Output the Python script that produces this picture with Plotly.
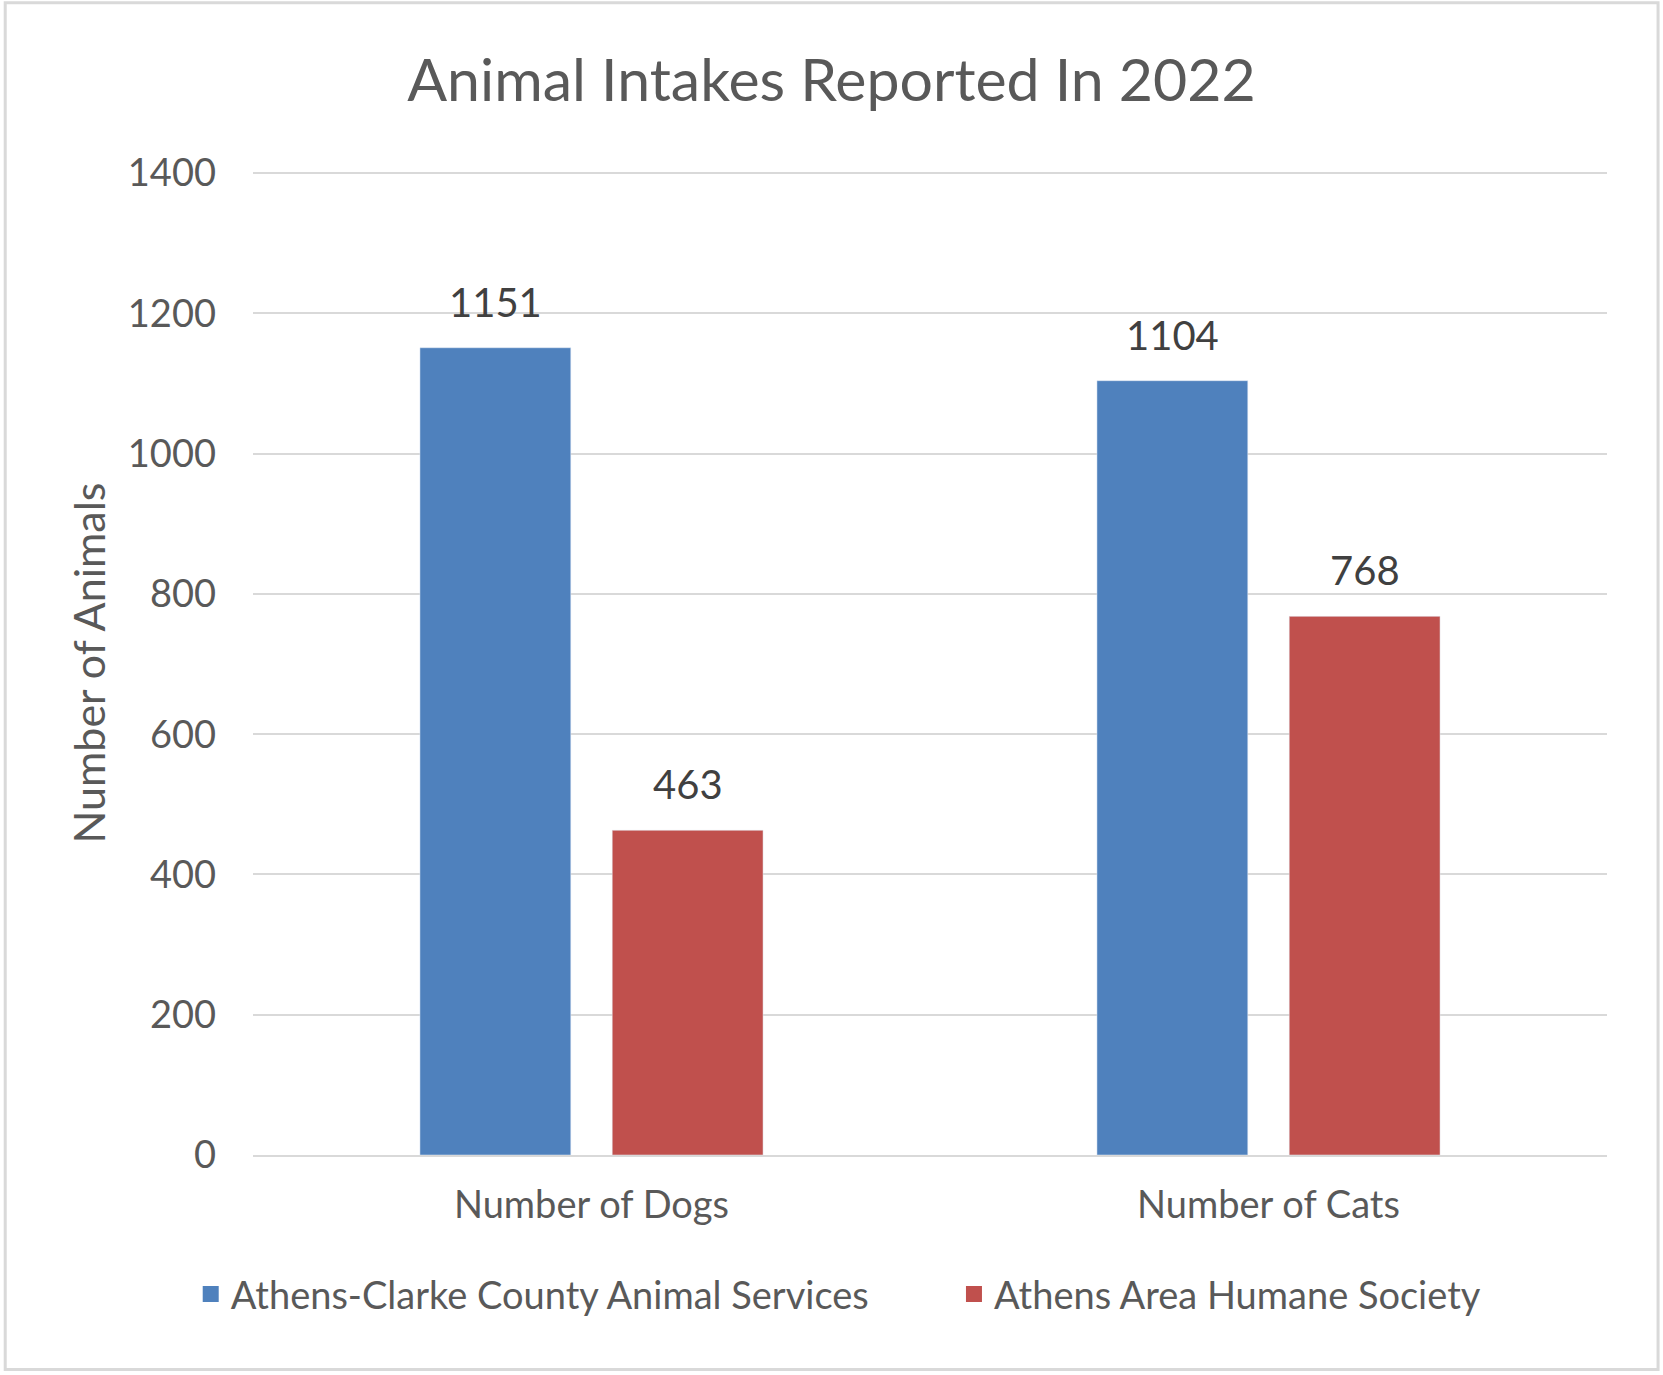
import plotly.graph_objects as go

categories = ["Number of Dogs", "Number of Cats"]
acc_services = [1151, 1104]
humane_society = [463, 768]
series_names = ["Athens-Clarke County Animal Services", "Athens Area Humane Society"]
series_colors = ["#4F81BD", "#C0504D"]
y_ticks = [0, 200, 400, 600, 800, 1000, 1200, 1400]

font_family = "Lato"
grey_text = "#595959"

plot_w = 1663 - 253 - 56
bargap = 0.432
slot = plot_w / len(categories) * (1 - bargap) / 2
legend_ids = ["legend", "legend2"]

fig = go.Figure()
for i, (name, vals) in enumerate(zip(series_names, [acc_services, humane_society])):
    fig.add_trace(go.Bar(x = categories, y = vals, name = name,
                         marker_color = series_colors[i], showlegend = False))
    # bigger legend swatch than the bar default
    fig.add_trace(go.Scatter(x = [None], y = [None], mode = "markers", name = name,
                             legend = legend_ids[i],
                             marker = dict(symbol = "square", size = 22, color = series_colors[i])))
    for cat, v in zip(categories, vals):
        fig.add_annotation(x = cat, y = v, text = str(v), showarrow = False,
                           xshift = (i - 0.5) * slot, yshift = 20, yanchor = "bottom",
                           font = dict(size = 40, color = "#404040"))

legend_style = dict(orientation = "h", xanchor = "left", y = -0.1416, yanchor = "middle",
                    font = dict(size = 38, color = grey_text))

fig.update_layout(
    width = 1663, height = 1375,
    margin = dict(l = 253, r = 56, t = 171, b = 220),
    paper_bgcolor = "white", plot_bgcolor = "white",
    font = dict(family = font_family, color = grey_text),
    title = dict(text = "Animal Intakes Reported In 2022", x = 0.5, xanchor = "center",
                 y = 1 - 80 / 1375, yanchor = "middle",
                 font = dict(size = 59, color = grey_text)),
    barmode = "group", bargap = bargap, bargroupgap = 0.2155,
    legend = dict(x = -0.046, **legend_style),
    legend2 = dict(x = 0.5177, **legend_style),
    showlegend = True,
    shapes = [dict(type = "rect", xref = "paper", yref = "paper",
                   x0 = -0.183, x1 = 1.0377, y0 = -0.218, y1 = 1.171,
                   line = dict(color = "#D9D9D9", width = 3))]
)
fig.update_yaxes(range = [0, 1403], tickvals = y_ticks, showgrid = True,
                 gridcolor = "#D9D9D9", gridwidth = 2, zeroline = False,
                 showline = False, ticks = "", ticklabelstandoff = 36,
                 tickfont = dict(size = 38, color = grey_text),
                 title = dict(text = "Number of Animals", standoff = 8,
                              font = dict(size = 43, color = grey_text)))
fig.update_xaxes(showline = True, linecolor = "#D9D9D9", linewidth = 2,
                 ticks = "", tickfont = dict(size = 38, color = grey_text),
                 ticklabelstandoff = 15)

fig.write_html("out.html", config = {"displayModeBar": False},
               post_script = "document.body.style.margin = '0';")
